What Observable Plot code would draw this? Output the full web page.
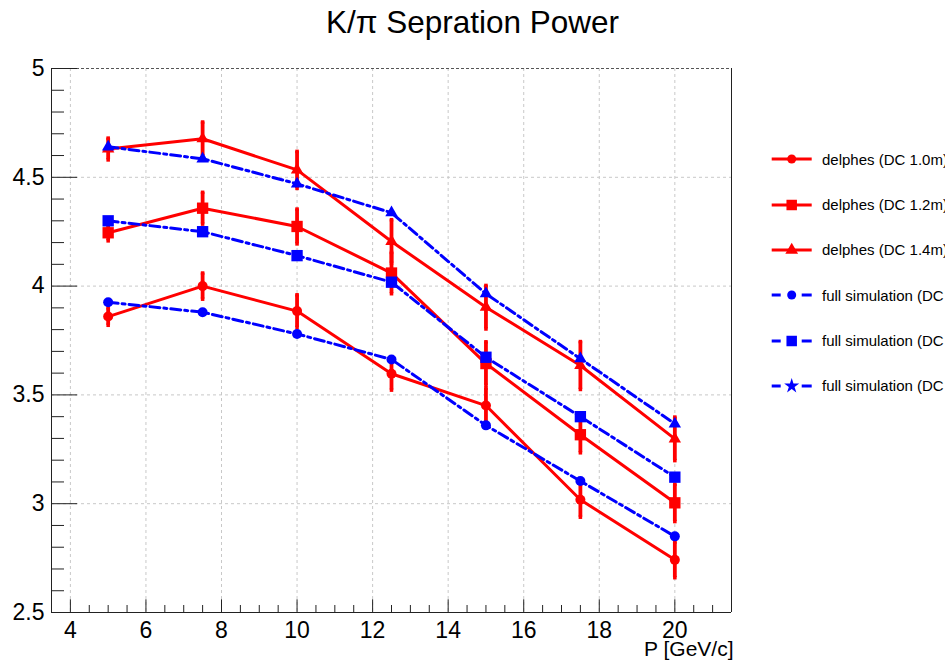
<!DOCTYPE html>
<html>
<head>
<meta charset="utf-8">
<script src="https://cdn.jsdelivr.net/npm/d3@7"></script>
<script src="https://cdn.jsdelivr.net/npm/@observablehq/plot@0.6"></script>
<style>
  html, body { margin: 0; padding: 0; background: #fff; width: 945px; height: 660px; overflow: hidden; }
  #wrap { position: relative; width: 945px; height: 660px; font-family: "Liberation Sans", Arial, sans-serif; }
  #title { height: 50px; box-sizing: border-box; padding-top: 6.5px; text-align: center; font-size: 31.5px; line-height: 31px; color: #000; white-space: nowrap; }
  #legend { position: absolute; left: 771px; top: 136.7px; width: 174px; overflow: hidden; }
  .row { height: 45.3px; display: flex; align-items: center; white-space: nowrap; font-size: 15px; color: #000; }
  .row svg { flex: none; }
</style>
</head>
<body>
<div id="wrap">
  <div id="title">K/π Sepration Power</div>
  <div id="chart"></div>
  <div id="legend"></div>
</div>
<script>
// ---- data ----
const P = [5, 7.5, 10, 12.5, 15, 17.5, 20];
const delphes10    = [3.86, 4.00, 3.885, 3.597, 3.451, 3.018, 2.742];
const delphes10Err = [0.04, 0.06, 0.075, 0.075, 0.08, 0.08, 0.082];
const delphes12    = [4.245, 4.358, 4.274, 4.06, 3.644, 3.317, 3.004];
const delphes12Err = [0.037, 0.073, 0.08, 0.095, 0.10, 0.083, 0.086];
const delphes14    = [4.63, 4.677, 4.534, 4.205, 3.903, 3.635, 3.298];
const delphes14Err = [0.05, 0.077, 0.085, 0.10, 0.10, 0.11, 0.10];
const fullsim10 = [3.926, 3.88, 3.78, 3.663, 3.36, 3.104, 2.85];
const fullsim12 = [4.30, 4.25, 4.14, 4.018, 3.673, 3.40, 3.122];
const fullsim14 = [4.64, 4.585, 4.47, 4.337, 3.965, 3.666, 3.367];
const seriesNames = [
  "delphes (DC 1.0m)", "delphes (DC 1.2m)", "delphes (DC 1.4m)",
  "full simulation (DC 1.0m)", "full simulation (DC 1.2m)", "full simulation (DC 1.4m)"
];
const titleText = "K/π Sepration Power";
const xLabel = "P [GeV/c]";
const xDomain = [3.5, 21.5];
const yDomain = [2.5, 5];
const xTicks = [4, 6, 8, 10, 12, 14, 16, 18, 20];
const xTickLabels = ["4", "6", "8", "10", "12", "14", "16", "18", "20"];
const yTicks = [2.5, 3, 3.5, 4, 4.5, 5];
const yTickLabels = ["2.5", "3", "3.5", "4", "4.5", "5"];

// ---- layout / style ----
const W = 760, H = 610, mL = 51, mR = 29, mT = 18, mB = 48;
const frameW = W - mL - mR, frameH = H - mT - mB;
const red = "#ff0000", blue = "#0000ff";
const dashDot = "10,4,3,4";

const rows = (ys, errs) => P.map((p, i) => ({p, v: ys[i], e: errs ? errs[i] : 0}));
const D = [rows(delphes10, delphes10Err), rows(delphes12, delphes12Err), rows(delphes14, delphes14Err)];
const F = [rows(fullsim10), rows(fullsim12), rows(fullsim14)];
const plotSymbols = ["circle", "square", "triangle"];
const symbolR = [5, 6.4, 4.6];

const xMinor = d3.range(4, 21.01, 0.5).filter(v => !xTicks.includes(v));
const yMinor = d3.range(26, 50).map(v => v / 10).filter(v => !yTicks.some(t => Math.abs(t - v) < 1e-9));

const marks = [
  // grid
  Plot.ruleX(xTicks, {stroke: "#c8c8c8", strokeDasharray: "3,3", strokeWidth: 1}),
  Plot.ruleY(yTicks.filter(v => v > yDomain[0] && v < yDomain[1]), {stroke: "#c8c8c8", strokeDasharray: "3,3", strokeWidth: 1}),
  // frame
  Plot.ruleY([yDomain[1]], {stroke: "#555", strokeDasharray: "3,2", strokeWidth: 1}),
  Plot.ruleX([xDomain[0]], {stroke: "#222", strokeWidth: 1}),
  Plot.ruleX([xDomain[1]], {stroke: "#222", strokeWidth: 1}),
  Plot.ruleY([yDomain[0]], {stroke: "#222", strokeWidth: 1}),
  // inward ticks
  Plot.ruleX(xTicks, {insetTop: frameH - 12.7, stroke: "#222", strokeWidth: 1}),
  Plot.ruleX(xMinor, {insetTop: frameH - 7, stroke: "#222", strokeWidth: 1}),
  Plot.ruleY(yTicks, {insetRight: frameW - 26, stroke: "#222", strokeWidth: 1}),
  Plot.ruleY(yMinor, {insetRight: frameW - 13, stroke: "#222", strokeWidth: 1}),
  // tick labels
  Plot.axisX({ticks: xTicks, tickSize: 0, tickPadding: 8.7, fontSize: 23, tickFormat: d => xTickLabels[xTicks.indexOf(d)], label: null}),
  Plot.axisY({ticks: yTicks, tickSize: 0, tickPadding: 7, fontSize: 23, tickFormat: d => yTickLabels[yTicks.indexOf(d)], label: null}),
  Plot.text([xLabel], {frameAnchor: "bottom-right", textAnchor: "end", lineAnchor: "bottom", dy: 43, dx: 2, fontSize: 21, fill: "#000"})
];

// delphes (red, solid, with errors)
D.forEach((d, k) => {
  marks.push(
    Plot.line(d, {x: "p", y: "v", stroke: red, strokeWidth: 3}),
    Plot.ruleX(d, {x: "p", y1: r => r.v - r.e, y2: r => r.v + r.e, stroke: red, strokeWidth: 3.8}),
    Plot.dot(d, {x: "p", y: r => r.v - r.e, symbol: "square", r: 2, fill: red}),
    Plot.dot(d, {x: "p", y: r => r.v + r.e, symbol: "square", r: 2, fill: red}),
    Plot.dot(d, {x: "p", y: "v", symbol: plotSymbols[k], r: symbolR[k], fill: red})
  );
});
// full simulation (blue, dash-dot)
F.forEach((d, k) => {
  marks.push(
    Plot.line(d, {x: "p", y: "v", stroke: blue, strokeWidth: 3, strokeDasharray: dashDot}),
    Plot.dot(d, {x: "p", y: "v", symbol: plotSymbols[k], r: symbolR[k], fill: blue})
  );
});

const chart = Plot.plot({
  width: W, height: H,
  marginLeft: mL, marginRight: mR, marginTop: mT, marginBottom: mB,
  style: {fontFamily: "'Liberation Sans', Arial, sans-serif", background: "#fff", color: "#000", overflow: "visible"},
  x: {domain: xDomain, label: null},
  y: {domain: yDomain, label: null},
  marks
});
document.getElementById("chart").appendChild(chart);
document.getElementById("title").textContent = titleText;

// ---- legend ----
const legendSym = [d3.symbolCircle, d3.symbolSquare, d3.symbolTriangle, d3.symbolCircle, d3.symbolSquare, d3.symbolStar];
const legendSize = [64, 110, 70, 64, 110, 70];
const legend = d3.select("#legend");
seriesNames.forEach((name, i) => {
  const row = legend.append("div").attr("class", "row");
  const svg = row.append("svg").attr("width", 51).attr("height", 20);
  const isRed = i < 3;
  const c = isRed ? red : blue;
  if (isRed) {
    svg.append("line").attr("x1", 0.7).attr("x2", 40.7).attr("y1", 10).attr("y2", 10).attr("stroke", c).attr("stroke-width", 3);
  } else {
    svg.append("line").attr("x1", 0.7).attr("x2", 9.7).attr("y1", 10).attr("y2", 10).attr("stroke", c).attr("stroke-width", 3);
    svg.append("line").attr("x1", 30.7).attr("x2", 40.7).attr("y1", 10).attr("y2", 10).attr("stroke", c).attr("stroke-width", 3);
  }
  svg.append("path").attr("transform", "translate(20.7,10)").attr("d", d3.symbol(legendSym[i], legendSize[i])()).attr("fill", c);
  row.append("span").text(name);
});
</script>
</body>
</html>
